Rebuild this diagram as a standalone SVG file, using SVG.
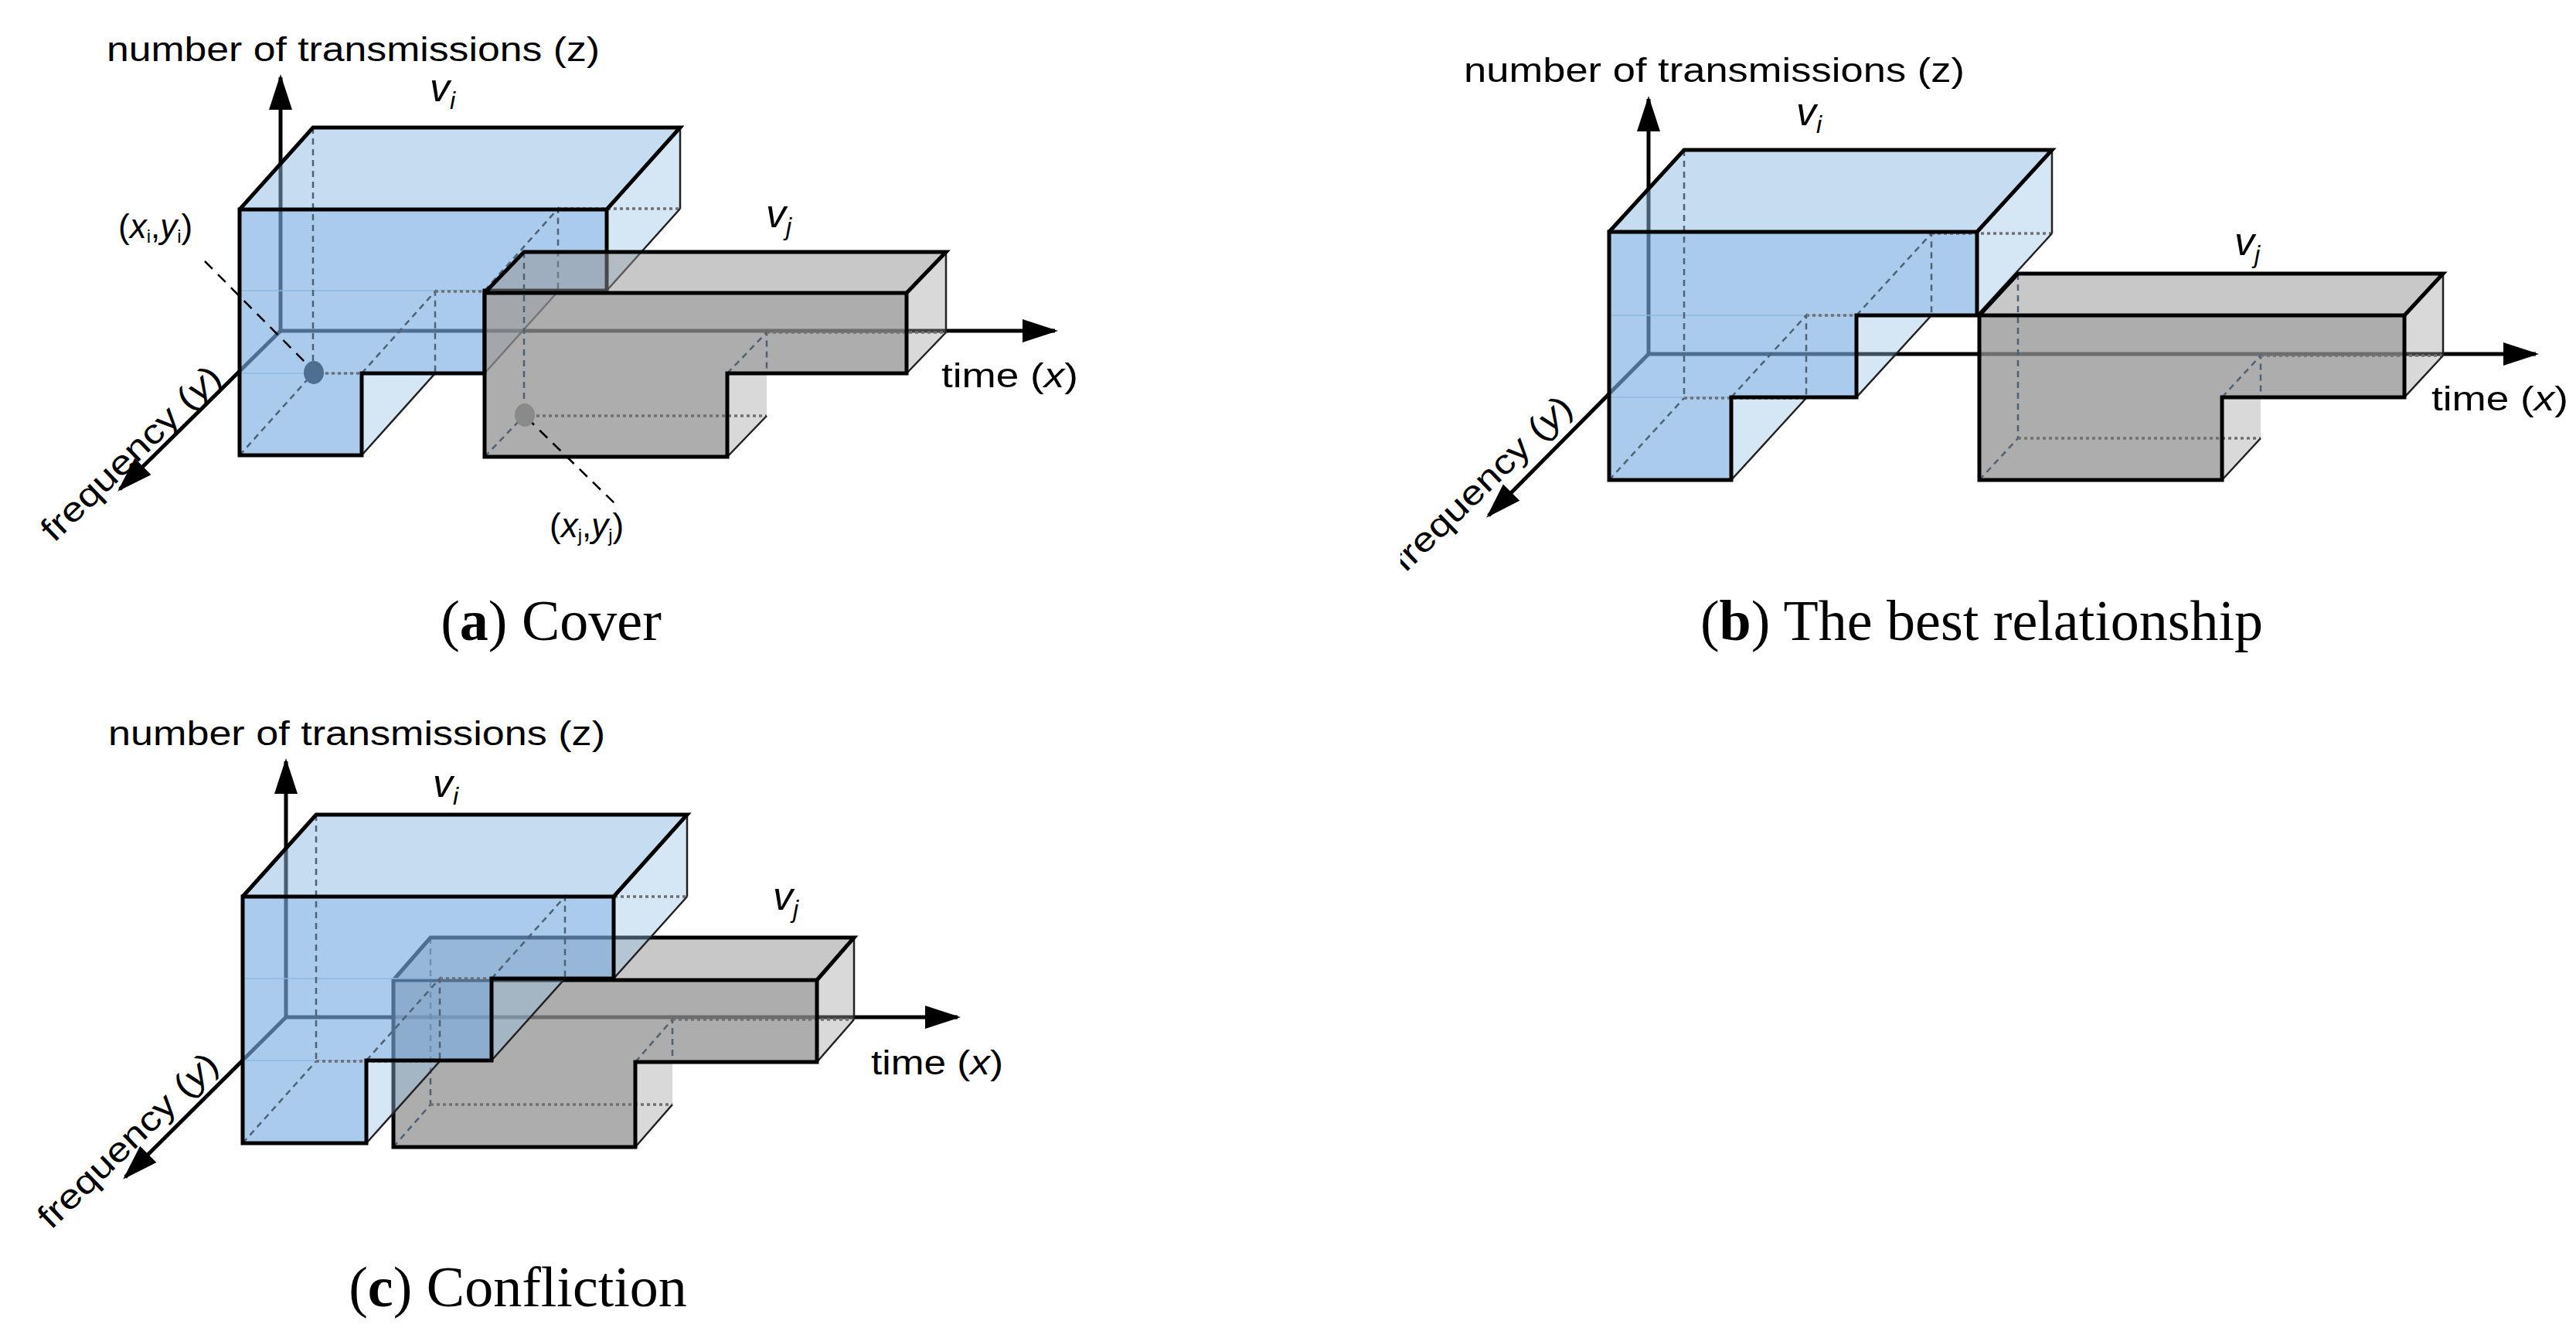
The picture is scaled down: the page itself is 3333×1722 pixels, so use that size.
<svg xmlns="http://www.w3.org/2000/svg" width="3333" height="1722" viewBox="0 0 3333 1722">
<style>
.th{stroke:#000;stroke-width:5;fill:none;stroke-linejoin:miter}
.tn{stroke:#222;stroke-width:2.5;fill:none}
.hd{stroke:#4f6275;stroke-width:2.5;stroke-dasharray:8 6;fill:none}
.dt{stroke:#707070;stroke-width:3.5;stroke-dasharray:4 4;fill:none}
.ax{stroke:#000;stroke-width:5;fill:none}
.bf{fill:rgb(121,173,224);fill-opacity:.635}
.bt{fill:rgb(141,185,225);fill-opacity:.5}
.br{fill:rgb(150,192,230);fill-opacity:.4}
.gf{fill:rgb(146,146,146);fill-opacity:.75}
.gt{fill:rgb(145,145,145);fill-opacity:.5}
.gr{fill:rgb(160,160,160);fill-opacity:.4}
.lbl{font-family:"Liberation Sans",Arial,sans-serif;font-size:44px;fill:#000}
.v{font-family:"Liberation Sans",Arial,sans-serif;font-size:52px;font-style:italic;fill:#000}
.cap{font-family:"Liberation Serif","Times New Roman",serif;font-size:74px;fill:#000}
.lead{stroke:#000;stroke-width:2.5;stroke-dasharray:14 10}
</style>
<defs>
<marker id="ah" markerUnits="userSpaceOnUse" orient="auto" overflow="visible" markerWidth="1" markerHeight="1" refX="0" refY="0"><path d="M4,0 L-42,-15 L-42,15 Z" fill="#000"/></marker>
<clipPath id="clipb"><rect x="1812" y="0" width="1521" height="900"/></clipPath>
</defs>

<!-- Panel a -->
<g id="axes-a">
<path class="ax" d="M363,428V100" marker-end="url(#ah)"/>
<path class="ax" d="M363,428H1365" marker-end="url(#ah)"/>
<path class="ax" d="M363,428L155,633" marker-end="url(#ah)"/>
</g>
<g id="vi-a">
<polygon class="bt" points="310,271 785,271 880,165 405,165"/>
<polygon class="br" points="785,271 880,165 880,270 785,376"/>
<polygon class="br" points="627,376 722,377 627,483"/>
<polygon class="br" points="468,483 563,483 468,589"/>
<polygon class="bf" points="310,271 785,271 785,376 627,376 627,483 468,483 468,589 310,589"/>
<path d="M310,376H627M310,483H468" stroke="#8fb8e0" stroke-width="1.5"/>
<path class="hd" d="M405,165V483M310,589L405,483M468,483L563,377V483M627,376L722,270V377"/>
<path class="dt" d="M405,483H563M563,377H722M722,270H880"/>
<path class="tn" d="M880,165V270M785,376L880,270M627,483L722,377M468,589L563,483"/>
<polygon class="th" points="310,271 785,271 785,376 627,376 627,483 468,483 468,589 310,589"/>
<path class="th" d="M310,271L405,165H880L785,271"/>
</g>
<g id="vj-a">
<polygon class="gt" points="627,379 1173,379 1224,326 678,326"/>
<polygon class="gr" points="1173,379 1224,326 1224,430 1173,483"/>
<polygon class="gr" points="941,483 992,483 992,538 941,591"/>
<polygon class="gf" points="627,379 1173,379 1173,483 941,483 941,591 627,591"/>
<path class="hd" d="M678,326V538M627,591L678,538M941,483L992,430V483" stroke="#666"/>
<path class="dt" d="M678,538H992M992,430H1224"/>
<path class="tn" d="M1224,326V430M1173,483L1224,430M941,591L992,538"/>
<polygon class="th" points="627,379 1173,379 1173,483 941,483 941,591 627,591"/>
<path class="th" d="M627,379L678,326H1224L1173,379"/>
</g>
<g id="points-a">
<path class="lead" d="M265,338L404,478M681,540L795,651"/>
<ellipse cx="406" cy="482" rx="13" ry="15" fill="#4e6f90"/>
<ellipse cx="679" cy="537" rx="13" ry="15" fill="#8a8a8a"/>
<text class="lbl" x="153" y="308" font-size="36">(<tspan font-style="italic">x</tspan><tspan font-size="24" dy="6">i</tspan><tspan dy="-6">,</tspan><tspan font-style="italic">y</tspan><tspan font-size="24" dy="6">i</tspan><tspan dy="-6">)</tspan></text>
<text class="lbl" x="711" y="695" font-size="36">(<tspan font-style="italic">x</tspan><tspan font-size="24" dy="6">j</tspan><tspan dy="-6">,</tspan><tspan font-style="italic">y</tspan><tspan font-size="24" dy="6">j</tspan><tspan dy="-6">)</tspan></text>
</g>
<g id="labels-a">
<text class="lbl" x="138" y="79" textLength="638" lengthAdjust="spacingAndGlyphs">number of transmissions (z)</text>
<text class="v" x="556" y="131">v<tspan font-size="32" dy="10">i</tspan></text>
<text class="v" x="991" y="294">v<tspan font-size="32" dy="10">j</tspan></text>
<text class="lbl" x="1218" y="501" textLength="177" lengthAdjust="spacingAndGlyphs">time (<tspan font-style="italic">x</tspan>)</text>
<text class="lbl" transform="translate(70,703) rotate(-44)" textLength="305" lengthAdjust="spacingAndGlyphs">frequency (<tspan font-style="italic">y</tspan>)</text>
<text class="cap" x="713" y="828" text-anchor="middle">(<tspan font-weight="bold">a</tspan>) Cover</text>
</g>

<!-- Panel b -->
<g id="axes-b">
<path class="ax" d="M2133,458V128" marker-end="url(#ah)"/>
<path class="ax" d="M2133,458H3281" marker-end="url(#ah)"/>
<path class="ax" d="M2133,458L1926,667" marker-end="url(#ah)"/>
</g>
<g id="vi-b">
<polygon class="bt" points="2082,300 2558,300 2655,194 2179,194"/>
<polygon class="br" points="2558,300 2655,194 2655,302 2558,408"/>
<polygon class="br" points="2402,408 2499,408 2402,514"/>
<polygon class="br" points="2240,514 2337,515 2240,621"/>
<polygon class="bf" points="2082,300 2558,300 2558,408 2402,408 2402,514 2240,514 2240,621 2082,621"/>
<path d="M2082,408H2402M2082,514H2240" stroke="#8fb8e0" stroke-width="1.5"/>
<path class="hd" d="M2179,194V515M2082,621L2179,515M2240,514L2337,408V515M2402,408L2499,302V408"/>
<path class="dt" d="M2179,515H2337M2337,408H2499M2499,302H2655"/>
<path class="tn" d="M2655,194V302M2558,408L2655,302M2402,514L2499,408M2240,621L2337,515"/>
<polygon class="th" points="2082,300 2558,300 2558,408 2402,408 2402,514 2240,514 2240,621 2082,621"/>
<path class="th" d="M2082,300L2179,194H2655L2558,300"/>
</g>
<g id="vj-b">
<polygon class="gt" points="2561,408 3111,408 3161,354 2611,354"/>
<polygon class="gr" points="3111,408 3161,354 3161,460 3111,514"/>
<polygon class="gr" points="2875,514 2925,514 2925,567 2875,621"/>
<polygon class="gf" points="2561,408 3111,408 3111,514 2875,514 2875,621 2561,621"/>
<path class="hd" d="M2611,354V567M2561,621L2611,567M2875,514L2925,460V514"/>
<path class="dt" d="M2611,567H2925M2925,460H3161"/>
<path class="tn" d="M3161,354V460M3111,514L3161,460M2875,621L2925,567"/>
<polygon class="th" points="2561,408 3111,408 3111,514 2875,514 2875,621 2561,621"/>
<path class="th" d="M2561,408L2611,354H3161L3111,408"/>
</g>
<g id="labels-b">
<text class="lbl" x="1894" y="106" textLength="648" lengthAdjust="spacingAndGlyphs">number of transmissions (z)</text>
<text class="v" x="2324" y="162">v<tspan font-size="32" dy="10">i</tspan></text>
<text class="v" x="2891" y="330">v<tspan font-size="32" dy="10">j</tspan></text>
<text class="lbl" x="3146" y="531" textLength="177" lengthAdjust="spacingAndGlyphs">time (<tspan font-style="italic">x</tspan>)</text>
<g clip-path="url(#clipb)"><text class="lbl" transform="translate(1818,742) rotate(-44)" textLength="305" lengthAdjust="spacingAndGlyphs">frequency (<tspan font-style="italic">y</tspan>)</text></g>
<text class="cap" x="2564" y="828" text-anchor="middle">(<tspan font-weight="bold">b</tspan>) The best relationship</text>
</g>

<!-- Panel c -->
<g id="axes-c">
<path class="ax" d="M370,1316V985" marker-end="url(#ah)"/>
<path class="ax" d="M370,1316H1239" marker-end="url(#ah)"/>
<path class="ax" d="M370,1316L162,1523" marker-end="url(#ah)"/>
</g>
<g id="vj-c">
<polygon class="gt" points="509,1268 1057,1268 1105,1213 557,1213"/>
<polygon class="gr" points="1057,1268 1105,1213 1105,1319 1057,1374"/>
<polygon class="gr" points="822,1374 870,1374 870,1429 822,1484"/>
<polygon class="gf" points="509,1268 1057,1268 1057,1374 822,1374 822,1484 509,1484"/>
<path class="hd" d="M557,1213V1429M509,1484L557,1429M822,1374L870,1319V1374"/>
<path class="dt" d="M557,1429H870M870,1319H1105"/>
<path class="tn" d="M1105,1213V1319M1057,1374L1105,1319M822,1484L870,1429"/>
<polygon class="th" points="509,1268 1057,1268 1057,1374 822,1374 822,1484 509,1484"/>
<path class="th" d="M509,1268L557,1213H1105L1057,1268"/>
</g>
<g id="vi-c">
<polygon class="bt" points="314,1160 794,1160 889,1054 409,1054"/>
<polygon class="br" points="794,1160 889,1054 889,1160 794,1266"/>
<polygon class="br" points="636,1266 731,1266 636,1372"/>
<polygon class="br" points="474,1372 569,1373 474,1479"/>
<polygon class="bf" points="314,1160 794,1160 794,1266 636,1266 636,1372 474,1372 474,1479 314,1479"/>
<path d="M314,1266H636M314,1372H474" stroke="#8fb8e0" stroke-width="1.5"/>
<path class="hd" d="M409,1054V1373M314,1479L409,1373M474,1372L569,1266V1373M636,1266L731,1160V1266"/>
<path class="dt" d="M409,1373H569M569,1266H731M731,1160H889"/>
<path class="tn" d="M889,1054V1160M794,1266L889,1160M636,1372L731,1266M474,1479L569,1373"/>
<polygon class="th" points="314,1160 794,1160 794,1266 636,1266 636,1372 474,1372 474,1479 314,1479"/>
<path class="th" d="M314,1160L409,1054H889L794,1160"/>
</g>
<g id="labels-c">
<text class="lbl" x="140" y="964" textLength="643" lengthAdjust="spacingAndGlyphs">number of transmissions (z)</text>
<text class="v" x="560" y="1031">v<tspan font-size="32" dy="10">i</tspan></text>
<text class="v" x="1000" y="1177">v<tspan font-size="32" dy="10">j</tspan></text>
<text class="lbl" x="1127" y="1390" textLength="171" lengthAdjust="spacingAndGlyphs">time (<tspan font-style="italic">x</tspan>)</text>
<text class="lbl" transform="translate(66,1592) rotate(-44)" textLength="305" lengthAdjust="spacingAndGlyphs">frequency (<tspan font-style="italic">y</tspan>)</text>
<text class="cap" x="670" y="1690" text-anchor="middle">(<tspan font-weight="bold">c</tspan>) Confliction</text>
</g>
</svg>
